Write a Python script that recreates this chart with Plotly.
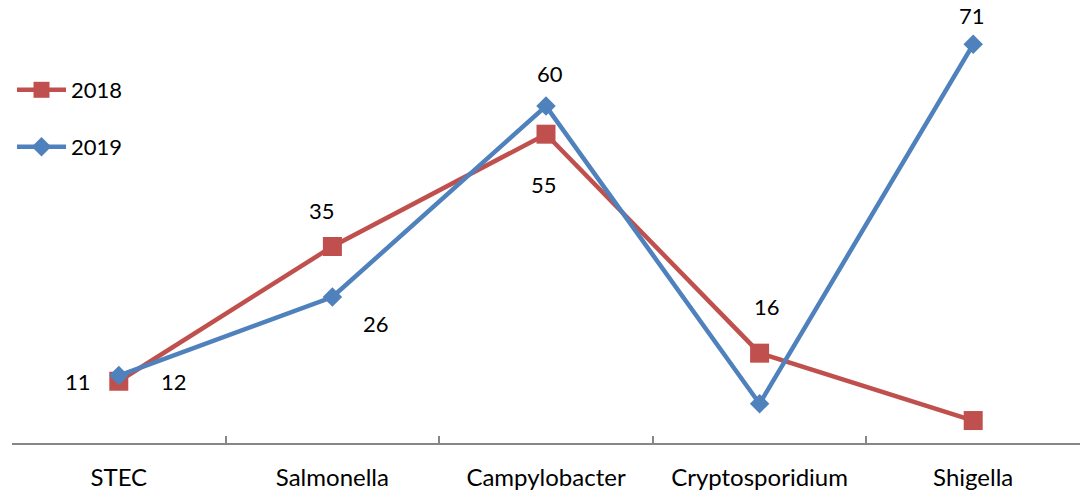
import plotly.graph_objects as go

categories = ["STEC", "Salmonella", "Campylobacter", "Cryptosporidium", "Shigella"]
series_names = ["2018", "2019"]
values_2018 = [11, 35, 55, 16, 4]
values_2019 = [12, 26, 60, 7, 71]
labels_2018 = ["11", "35", "55", "16", None]
labels_2019 = ["12", "26", "60", None, "71"]

# label offsets in pixels (xshift, yshift)
offsets_2018 = [(-41, 0), (-10, 36), (-2, -50), (7, 47), (0, 0)]
offsets_2019 = [(55, -6), (44, -26), (4, 33), (0, 0), (-1, 29)]

RED = "#C0504D"
BLUE = "#4F81BD"
FONT = "Lato"

fig = go.Figure()
fig.add_trace(go.Scatter(
    x=categories, y=values_2018, name=series_names[0], mode="lines+markers",
    line=dict(color=RED, width=4.5), marker=dict(symbol="square", size=19, color=RED),
    legend="legend",
))
fig.add_trace(go.Scatter(
    x=categories, y=values_2019, name=series_names[1], mode="lines+markers",
    line=dict(color=BLUE, width=4.5), marker=dict(symbol="diamond", size=15, color=BLUE),
    legend="legend2",
))

annotations = []
for vals, labs, offs in [(values_2018, labels_2018, offsets_2018), (values_2019, labels_2019, offsets_2019)]:
    for c, v, lab, (dx, dy) in zip(categories, vals, labs, offs):
        if lab is None:
            continue
        annotations.append(dict(x=c, y=v, xref="x", yref="y", text=lab, showarrow=False,
                                xshift=dx, yshift=dy, font=dict(family=FONT, size=22, color="#000000")))

legend_common = dict(font=dict(family=FONT, size=22, color="#000000"), bgcolor="rgba(0,0,0,0)",
                     xanchor="left", yanchor="middle", borderwidth=0, itemwidth=49)

fig.update_layout(
    width=1089, height=497,
    margin=dict(l=12, r=9, t=0, b=54, autoexpand=False),
    paper_bgcolor="white", plot_bgcolor="white",
    showlegend=True,
    legend=dict(x=0.0, y=(497 - 90 - 54) / 443, **legend_common),
    legend2=dict(x=0.0, y=(497 - 147 - 54) / 443, **legend_common),
    annotations=annotations,
    xaxis=dict(
        type="category", range=[-0.5, 4.5], showgrid=False, zeroline=False,
        showline=True, linecolor="#868686", linewidth=1.5,
        ticks="inside", ticklen=7, tickcolor="#868686", tickwidth=1.5,
        tickson="boundaries", ticklabelstandoff=12,
        tickfont=dict(family=FONT, size=24, color="#000000"),
    ),
    yaxis=dict(range=[0, 78.9], visible=False, showgrid=False, zeroline=False),
)

fig.write_html(
    "out.html",
    config={"displayModeBar": False},
    post_script="document.body.style.margin='0';document.body.style.padding='0';",
)
